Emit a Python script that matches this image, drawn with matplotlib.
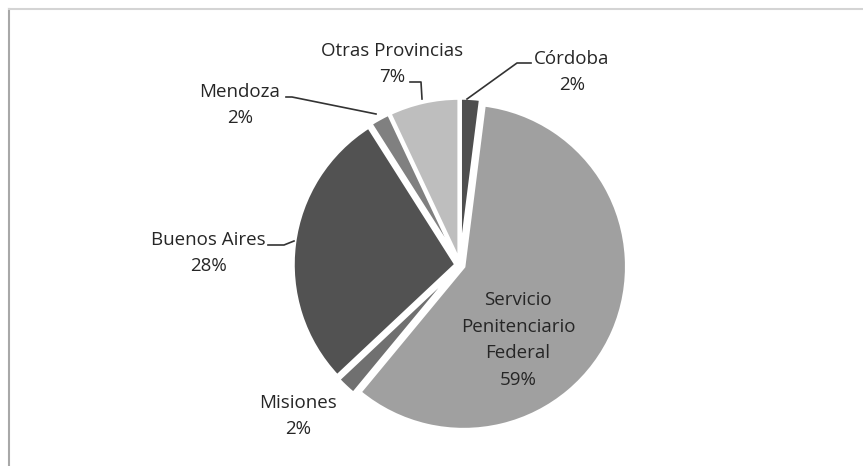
import matplotlib.pyplot as plt

# slices, clockwise from 12 o'clock
labels = ['Córdoba', 'Servicio\nPenitenciario\nFederal', 'Misiones',
          'Buenos Aires', 'Mendoza', 'Otras Provincias']
values = [2, 59, 2, 28, 2, 7]
colors = ['#4f4f4f', '#a0a0a0', '#707070', '#525252', '#808080', '#bebebe']

W, H = 863, 466
fig = plt.figure(figsize=(W / 100, H / 100), dpi=100)
ax = fig.add_axes([0, 0, 1, 1])
plt.rcParams['font.family'] = ['Open Sans', 'DejaVu Sans']

# axes are in pixel units, so the explode offset is in pixels too
wedges, _ = ax.pie(values, colors=colors, startangle=90, counterclock=False,
                   center=(460, H - 265), radius=163,
                   explode=[4] * len(values),
                   wedgeprops=dict(edgecolor='white', linewidth=2.5))

ax.set_xlim(0, W)
ax.set_ylim(0, H)
ax.set_aspect('equal')
ax.axis('off')

# frame of the chart area
ax.plot([8.5, 8.5], [0, H - 9], color='#a8a8a8', lw=1.5)
ax.plot([8.5, W], [H - 9, H - 9], color='#d4d4d4', lw=1.5)

fs = 13.5
tc = '#262626'

def lab(x, y, txt):
    ax.text(x, H - y, txt, ha='center', va='center', fontsize=fs, color=tc,
            linespacing=1.6)

lab(392, 64, labels[5] + '\n' + f'{values[5]}%')
lab(572, 72, labels[0] + '\n' + f'{values[0]}%')
lab(240, 105, labels[4] + '\n' + f'{values[4]}%')
lab(208, 253, labels[3] + '\n' + f'{values[3]}%')
lab(298, 416, labels[2] + '\n' + f'{values[2]}%')
ax.text(518, H - 340, labels[1] + '\n' + f'{values[1]}%', ha='center',
        va='center', fontsize=fs, color=tc, linespacing=1.6)

# leader lines
lc = '#333333'
ax.plot([410, 421, 422], [H - 82, H - 82, H - 99], color=lc, lw=1.2)
ax.plot([531, 517, 467], [H - 63, H - 63, H - 99], color=lc, lw=1.2)
ax.plot([286, 292, 376], [H - 97, H - 97, H - 114], color=lc, lw=1.2)
ax.plot([268, 284, 294], [H - 245, H - 245, H - 241], color=lc, lw=1.2)

fig.savefig('out.png', dpi=100)
